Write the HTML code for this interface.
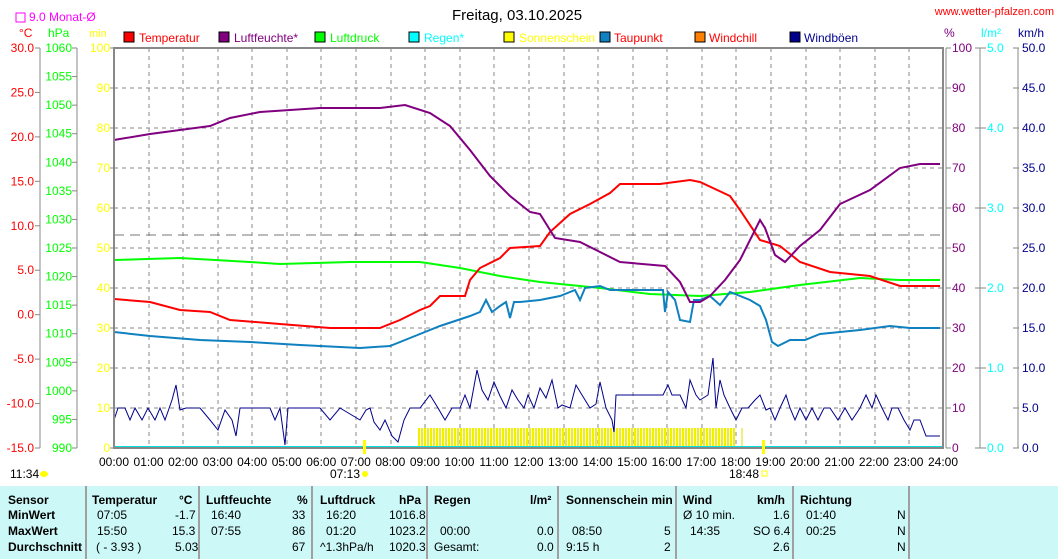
<!DOCTYPE html><html><head><meta charset="utf-8"><style>
body{margin:0;background:#fff;width:1058px;height:559px;overflow:hidden;font-family:"Liberation Sans",sans-serif}
svg text{font-family:"Liberation Sans",sans-serif;font-size:12px}
.tb{position:absolute;left:0;top:486px;width:1058px;height:73px;background:#ccf8f8}
.c{position:absolute;top:0;height:73px;border-right:2px solid #a0a0a0}
.tb span{position:absolute;font-size:12px;white-space:nowrap}
.b{font-weight:bold}
</style></head><body>
<svg width="1058" height="486" style="position:absolute;left:0;top:0">
<defs><pattern id="sun" x="418" y="0" width="3" height="20" patternUnits="userSpaceOnUse"><rect x="0" y="0" width="2" height="20" fill="#f0f000"/></pattern></defs>
<g stroke="#888" stroke-dasharray="4,4">
<line x1="114" y1="88" x2="943" y2="88"/><line x1="114" y1="128" x2="943" y2="128"/><line x1="114" y1="168" x2="943" y2="168"/><line x1="114" y1="208" x2="943" y2="208"/><line x1="114" y1="248" x2="943" y2="248"/><line x1="114" y1="288" x2="943" y2="288"/><line x1="114" y1="328" x2="943" y2="328"/><line x1="114" y1="368" x2="943" y2="368"/><line x1="114" y1="408" x2="943" y2="408"/>
<line x1="149" y1="48" x2="149" y2="448"/><line x1="183" y1="48" x2="183" y2="448"/><line x1="218" y1="48" x2="218" y2="448"/><line x1="252" y1="48" x2="252" y2="448"/><line x1="287" y1="48" x2="287" y2="448"/><line x1="321" y1="48" x2="321" y2="448"/><line x1="356" y1="48" x2="356" y2="448"/><line x1="391" y1="48" x2="391" y2="448"/><line x1="425" y1="48" x2="425" y2="448"/><line x1="460" y1="48" x2="460" y2="448"/><line x1="494" y1="48" x2="494" y2="448"/><line x1="529" y1="48" x2="529" y2="448"/><line x1="564" y1="48" x2="564" y2="448"/><line x1="598" y1="48" x2="598" y2="448"/><line x1="633" y1="48" x2="633" y2="448"/><line x1="667" y1="48" x2="667" y2="448"/><line x1="702" y1="48" x2="702" y2="448"/><line x1="736" y1="48" x2="736" y2="448"/><line x1="771" y1="48" x2="771" y2="448"/><line x1="806" y1="48" x2="806" y2="448"/><line x1="840" y1="48" x2="840" y2="448"/><line x1="875" y1="48" x2="875" y2="448"/><line x1="909" y1="48" x2="909" y2="448"/>
</g>
<line x1="114" y1="235" x2="943" y2="235" stroke="#777" stroke-dasharray="10,6"/>
<rect x="418" y="428" width="317" height="20" fill="url(#sun)"/>
<g stroke="#e0e000" stroke-width="1"><line x1="742" y1="428" x2="742" y2="448"/></g>
<polyline fill="none" stroke="#00008b" stroke-width="1" points="114,420 118,408 125,408 130,420 135,408 142,420 148,408 155,420 160,408 165,420 172,400 176,385 180,410 186,408 200,408 210,420 218,430 225,410 232,420 236,436 240,408 270,408 275,420 280,408 285,445 288,408 300,408 320,408 330,420 340,408 360,420 366,410 370,408 374,422 380,430 385,420 392,436 398,442 404,420 410,408 420,408 430,395 438,408 445,420 452,408 460,408 465,395 470,408 477,370 482,390 488,400 494,382 500,396 506,408 512,390 518,400 524,408 528,395 534,408 540,388 546,398 552,380 558,408 562,405 570,408 576,385 582,395 590,408 596,404 600,382 606,408 612,420 614,432 616,395 630,395 640,395 650,395 663,395 668,385 672,395 680,395 686,408 690,380 696,395 700,400 708,395 713,358 716,408 720,380 724,395 730,408 736,420 742,408 748,408 755,400 760,395 766,410 770,408 775,420 780,408 786,395 790,408 795,420 800,408 806,420 812,408 818,420 824,408 830,408 838,420 845,408 852,420 860,408 866,395 872,408 876,395 882,408 888,420 892,408 898,408 904,420 910,430 914,420 920,420 926,436 940,436"/>
<polyline fill="none" stroke="#00ff00" stroke-width="2" points="114,260 180,258 250,262 280,264 350,262 420,262 460,268 500,276 540,282 600,288 650,294 700,296 750,292 800,285 860,278 900,280 940,280"/>
<polyline fill="none" stroke="#0f80c0" stroke-width="2" points="114,332 150,336 200,340 250,342 300,345 360,348 390,346 410,338 440,326 470,316 480,312 486,300 492,312 500,306 506,302 510,318 514,302 520,302 540,300 560,296 575,290 580,300 585,288 600,286 610,290 650,290 663,290 665,312 668,292 675,300 680,320 690,322 694,300 700,300 710,296 720,305 730,292 750,300 760,306 766,320 772,342 778,346 790,340 805,340 820,334 860,330 890,326 910,328 940,328"/>
<polyline fill="none" stroke="#ff0000" stroke-width="2" points="114,299 150,302 180,310 210,312 230,320 280,324 330,328 380,328 400,320 420,310 430,306 440,296 465,296 470,280 480,268 500,258 510,248 540,246 550,232 570,214 590,204 610,193 620,184 660,184 690,180 700,182 730,196 740,210 760,240 780,246 800,262 830,272 870,276 900,286 940,286"/>
<polyline fill="none" stroke="#800080" stroke-width="2" points="114,140 150,134 180,130 210,126 230,118 260,112 320,108 380,108 405,105 430,113 450,126 470,150 490,176 500,186 510,196 530,212 540,214 555,238 580,242 600,252 620,262 665,266 680,282 690,302 700,302 710,296 725,280 740,260 760,220 765,228 775,255 785,262 800,246 820,230 840,204 870,190 900,168 920,164 940,164"/>
<line x1="114" y1="447" x2="943" y2="447" stroke="#00e0e0" stroke-width="2"/>
<rect x="114" y="48" width="829" height="400" fill="none" stroke="#888" stroke-width="2"/>
<line x1="946" y1="48" x2="946" y2="448" stroke="#888"/>
<g stroke="#888"><line x1="40" y1="48" x2="40" y2="448"/><line x1="77" y1="48" x2="77" y2="448"/>
<line x1="980" y1="48" x2="980" y2="448"/><line x1="1018" y1="48" x2="1018" y2="448"/></g>
<text x="517" y="20" text-anchor="middle" style="font-size:15px" fill="#000">Freitag, 03.10.2025</text>
<text x="1054" y="15" text-anchor="end" fill="#ff0000" style="font-size:11px">www.wetter-pfalzen.com</text>
<rect x="16" y="13" width="9" height="9" fill="none" stroke="#ff00ff"/>
<text x="29" y="21" fill="#ff00ff">9.0 Monat-Ø</text>
<text x="19" y="37" fill="#ff0000">°C</text><text x="48" y="37" fill="#00ff00">hPa</text><text x="89" y="37" fill="#ffff00" style="font-size:11px">min</text>
<text x="944" y="37" fill="#800080">%</text><text x="981" y="37" fill="#00ffff">l/m²</text><text x="1018" y="37" fill="#00008b">km/h</text>
<g>
<rect x="124" y="32" width="10" height="10" fill="#f00" stroke="#000"/><text x="139" y="42" fill="#f00">Temperatur</text>
<rect x="219" y="32" width="10" height="10" fill="#800080" stroke="#000"/><text x="234" y="42" fill="#800080">Luftfeuchte*</text>
<rect x="315" y="32" width="10" height="10" fill="#0f0" stroke="#000"/><text x="330" y="42" fill="#0f0">Luftdruck</text>
<rect x="409" y="32" width="10" height="10" fill="#0ff" stroke="#000"/><text x="424" y="42" fill="#0ff">Regen*</text>
<rect x="504" y="32" width="10" height="10" fill="#ff0" stroke="#000"/><text x="519" y="42" fill="#ff0">Sonnenschein</text>
<rect x="600" y="32" width="10" height="10" fill="#0f80c0" stroke="#000"/><text x="614" y="42" fill="#f00">Taupunkt</text>
<rect x="695" y="32" width="10" height="10" fill="#ff8000" stroke="#000"/><text x="709" y="42" fill="#f00">Windchill</text>
<rect x="790" y="32" width="10" height="10" fill="#00008b" stroke="#000"/><text x="804" y="42" fill="#00008b">Windböen</text>
</g>
<g id="ax"></g>
<text x="10" y="478" fill="#000">11:34</text><ellipse cx="44" cy="474" rx="4" ry="3" fill="#ff0"/>
<text x="330" y="478" fill="#000">07:13</text><circle cx="365" cy="474" r="3" fill="#ff0"/>
<rect x="363" y="440" width="3" height="14" fill="#ff0"/><rect x="762" y="440" width="3" height="14" fill="#ff0"/>
<text x="729" y="478" fill="#000">18:48</text><rect x="762" y="471" width="5" height="5" fill="none" stroke="#ff0"/>
</svg>
<script>
var g=document.getElementById('ax'),s='';
function t(x,y,txt,c,a){s+='<text x="'+x+'" y="'+y+'" fill="'+c+'" text-anchor="'+(a||'end')+'">'+txt+'</text>';}
function tk(x1,x2,y){s+='<line x1="'+x1+'" x2="'+x2+'" y1="'+y+'" y2="'+y+'" stroke="#888"/>';}
for(var i=0;i<=9;i++){var y=48+i*400/9;t(34,y+4,(30-5*i).toFixed(1),'#f00');tk(35,40,y);}
for(var i=0;i<=14;i++){var y=48+i*400/14;t(72,y+4,1060-5*i,'#0f0');tk(72,77,y);}
for(var i=0;i<=10;i++){var y=48+i*40;t(110,y+4,100-10*i,'#ff0');tk(110,114,y);t(952,y+4,100-10*i,'#800080','start');tk(946,951,y);
 t(1022,y+4,(50-5*i).toFixed(1),'#00008b','start');tk(1013,1019,y);
 if(i%2==0){t(987,y+4,(5-i/2).toFixed(1),'#0ff','start');tk(975,986,y);}}
for(var h=0;h<=24;h++){var x=114+h*829/24;t(x,466,(h<10?'0':'')+h+':00','#000','middle');}
g.innerHTML=s;
</script>
<div class="tb">
<div class="c" style="left:0;width:85px"></div><div class="c" style="left:87px;width:111px"></div><div class="c" style="left:200px;width:111px"></div><div class="c" style="left:313px;width:113px"></div><div class="c" style="left:428px;width:129px"></div><div class="c" style="left:559px;width:116px"></div><div class="c" style="left:677px;width:115px"></div><div class="c" style="left:794px;width:114px"></div>
<span class="b" style="left:8px;top:7px">Sensor</span><span class="b" style="left:8px;top:22px">MinWert</span><span class="b" style="left:8px;top:38px">MaxWert</span><span class="b" style="left:8px;top:54px">Durchschnitt</span>
<span class="b" style="left:92px;top:7px">Temperatur</span><span class="b" style="left:179px;top:7px">°C</span>
<span style="left:97px;top:22px">07:05</span><span style="left:175px;top:22px">-1.7</span>
<span style="left:97px;top:38px">15:50</span><span style="left:172px;top:38px">15.3</span>
<span style="left:96px;top:54px">( - 3.93 )</span><span style="left:175px;top:54px">5.03</span>
<span class="b" style="left:206px;top:7px">Luftfeuchte</span><span class="b" style="left:297px;top:7px">%</span>
<span style="left:211px;top:22px">16:40</span><span style="left:292px;top:22px">33</span>
<span style="left:211px;top:38px">07:55</span><span style="left:292px;top:38px">86</span><span style="left:292px;top:54px">67</span>
<span class="b" style="left:320px;top:7px">Luftdruck</span><span class="b" style="left:399px;top:7px">hPa</span>
<span style="left:326px;top:22px">16:20</span><span style="left:389px;top:22px">1016.8</span>
<span style="left:326px;top:38px">01:20</span><span style="left:389px;top:38px">1023.2</span>
<span style="left:320px;top:54px">^1.3hPa/h</span><span style="left:389px;top:54px">1020.3</span>
<span class="b" style="left:434px;top:7px">Regen</span><span class="b" style="left:530px;top:7px">l/m²</span>
<span style="left:440px;top:38px">00:00</span><span style="left:537px;top:38px">0.0</span>
<span style="left:434px;top:54px">Gesamt:</span><span style="left:537px;top:54px">0.0</span>
<span class="b" style="left:566px;top:7px">Sonnenschein min</span>
<span style="left:572px;top:38px">08:50</span><span style="left:664px;top:38px">5</span>
<span style="left:566px;top:54px">9:15 h</span><span style="left:664px;top:54px">2</span>
<span class="b" style="left:683px;top:7px">Wind</span><span class="b" style="left:757px;top:7px">km/h</span>
<span style="left:683px;top:22px">Ø 10 min.</span><span style="left:773px;top:22px">1.6</span>
<span style="left:690px;top:38px">14:35</span><span style="left:753px;top:38px">SO 6.4</span><span style="left:773px;top:54px">2.6</span>
<span class="b" style="left:800px;top:7px">Richtung</span>
<span style="left:806px;top:22px">01:40</span><span style="left:897px;top:22px">N</span>
<span style="left:806px;top:38px">00:25</span><span style="left:897px;top:38px">N</span><span style="left:897px;top:54px">N</span>
</div>
</body></html>
